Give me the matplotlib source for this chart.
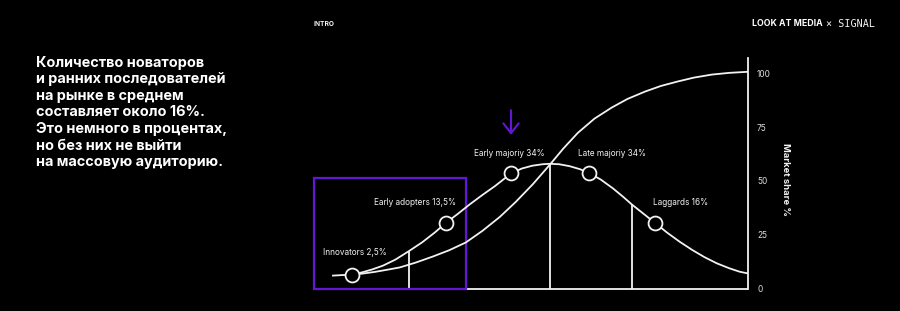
import matplotlib.pyplot as plt
from matplotlib.patches import Rectangle

plt.rcParams['font.family'] = ['Inter', 'DejaVu Sans']

# cumulative adoption (S-curve)
s_x = [4.6, 7, 10, 13, 16.1, 20, 24.1, 28, 32, 36, 40.2, 44, 48.2, 52.3, 55.5,
       59, 63, 67.2, 71, 75.2, 79, 83.1, 87, 91.3, 95.5, 100]
s_y = [6.5, 6.9, 7.7, 8.7, 9.8, 12.1, 14.9, 17.8, 21.4, 26.8, 33.3, 40.2, 48.6, 57.7, 65.1,
       72.4, 79, 84.2, 88.2, 91.6, 94.2, 96.3, 98.1, 99.5, 100.3, 100.8]

# adoption per group (bell curve)
bell_x = [0, 4.6, 7, 9.5, 12, 15, 18.3, 21.5, 24.5, 27.2, 30, 33, 36, 39, 42.9, 45.5,
          48, 50.5, 52.3, 54.5, 57, 59.5, 61.7, 64.5, 67.5, 70, 72, 75, 77.6, 80.5,
          83.5, 86.5, 89.5, 92.5, 95.5, 98, 100]
bell_y = [6.0, 6.5, 7.5, 8.9, 10.6, 13.4, 17.4, 21.5, 26, 30.5, 34.6, 39.2, 43.5, 47.6,
          53.5, 55.8, 57.1, 57.8, 58.0, 57.8, 56.9, 55.5, 53.7, 50.7, 46.5, 42.5, 39.1,
          34.5, 30.5, 26, 21.8, 18, 14.6, 11.7, 9.4, 7.8, 7]

groups = ['Innovators', 'Early adopters', 'Early majoriy', 'Late majoriy', 'Laggards']
shares = ['2,5%', '13,5%', '34%', '34%', '16%']
group_x = [4.6, 27.2, 42.9, 61.7, 77.6]
group_y = [6.3, 30.5, 53.5, 53.7, 30.5]

# dividers under the bell
div_x = [18.3, 52.3, 72.0]
div_top = [17.4, 58.0, 39.1]

# highlighted zone (innovators + early adopters)
zone_x = [-4.6, 32.0]
zone_top = 51.6

y_ticks = [0, 25, 50, 75, 100]

intro = ('Количество новаторов\nи ранних последователей\nна рынке в среднем\n'
         'составляет около 16%.\nЭто немного в процентах,\nно без них не выйти\n'
         'на массовую аудиторию.')

white = '#f2f2f2'
purple = '#6416d6'

fig = plt.figure(figsize=(9, 3.11), dpi=100, facecolor='black')
ax = fig.add_axes([312.25 / 900, 18.2 / 311, 435.75 / 900, 240.8 / 311])
ax.set_facecolor('black')
ax.set_xlim(-5, 100)
ax.set_ylim(-2, 110)

for s in ['left', 'top', 'bottom']:
    ax.spines[s].set_visible(False)
ax.spines['right'].set_color(white)
ax.spines['right'].set_linewidth(1.3)
ax.spines['right'].set_bounds(0, 107.4)
ax.set_xticks([])
ax.yaxis.tick_right()
ax.set_yticks(y_ticks)
ax.tick_params(axis='y', length=0, pad=6.5, labelsize=6, labelcolor='#dddddd')

ax.plot([0, 100], [0, 0], color=white, lw=1.3, zorder=1)
ax.vlines(div_x, 0, div_top, color=white, lw=1.3, zorder=1)

ax.add_patch(Rectangle((zone_x[0], 0), zone_x[1] - zone_x[0], zone_top,
                       fill=False, edgecolor=purple, lw=1.6, zorder=2))

ax.plot(s_x, s_y, color=white, lw=1.3, zorder=3, solid_joinstyle='round')
ax.plot(bell_x, bell_y, color=white, lw=1.3, zorder=3, solid_joinstyle='round')
ax.plot(group_x, group_y, 'o', ms=10, mfc='black', mec=white, mew=1.3, zorder=4)

offsets = [(2, 16), (-22, 14.4), (-1, 14.4), (16.5, 14.4), (18.4, 14.4)]
for name, share, gx, gy, off in zip(groups, shares, group_x, group_y, offsets):
    ax.annotate(f'{name} {share}', (gx, gy), xytext=off, textcoords='offset points',
                ha='center', va='center', color=white, fontsize=5.9)

# purple arrow over early majority
ax.annotate('', xy=(group_x[2], 70.2), xytext=(group_x[2], 84.2),
            arrowprops=dict(arrowstyle='->,head_length=0.7,head_width=0.55',
                            color=purple, lw=1.5))

ax.text(1.087, 0.47, 'Market share %', transform=ax.transAxes, rotation=270,
        ha='center', va='center', color=white, fontsize=6.8, fontweight='bold')

fig.text(36 / 900, 1 - 55.5 / 311, intro, color='white', fontsize=10.4,
         fontweight='bold', va='top', ha='left', linespacing=1.24)
fig.text(313 / 900, 1 - 24 / 311, 'INTRO', color=white, fontsize=4.8,
         fontweight='bold', va='center')
fig.text(752 / 900, 1 - 24 / 311, 'LOOK AT MEDIA', color='white', fontsize=6.3,
         fontweight='bold', va='center')
fig.text(826 / 900, 1 - 24 / 311, '× SIGNAL', color=white, fontsize=7.3,
         family='DejaVu Sans Mono', va='center')

fig.savefig('out.png', dpi=100, facecolor='black')
